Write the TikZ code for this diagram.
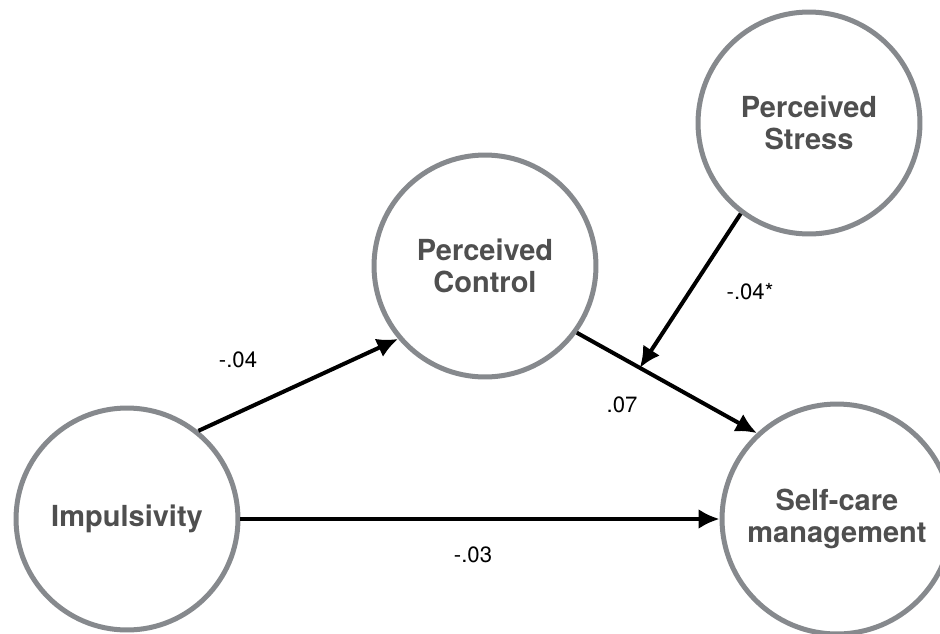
\documentclass[tikz,border=0pt]{standalone}
\usepackage{fontspec}
\setmainfont{TeX Gyre Heros}
\usetikzlibrary{arrows.meta}
\usetikzlibrary{positioning}

\definecolor{ringgray}{HTML}{86898D}
\definecolor{textgray}{HTML}{4F4F4F}

\tikzset{
  var/.style={circle, draw=ringgray, line width=0.1cm, fill=white,
    minimum size=4.44cm, align=center, text=textgray,
    font=\fontsize{16.5}{18.5}\selectfont\bfseries},
  path/.style={line width=0.08cm, -{Latex[length=0.42cm,width=0.4cm]}},
  coef/.style={font=\fontsize{12.6}{14}\selectfont}
}

\begin{document}
\begin{tikzpicture}[x=0.02cm,y=-0.02cm]
\useasboundingbox (0,0) rectangle (940,633);

\node [var] (imp) at (127,519) {Impulsivity};
\node [var] (ctrl) at (485,266) {Perceived\\Control};
\node [var] (stress) at (809,123) {Perceived\\Stress};
\node [var, minimum size=4.6cm] (self) at (837,519) {Self-care\\management};

\draw [path] (imp.51) -- (ctrl.220);
\draw [path] (ctrl.-36) -- coordinate[pos=.35] (mod) (self.133);
\draw [path] (stress.233) -- (mod);
\draw [path] (imp.east) -- (self.west);

\node [coef] (a) at (238,360) {-.04};
\node [coef] (b) at (622,405) {.07};
\node [coef] (c) at (750,292) {-.04*};
\node [coef] (d) at (473,555) {-.03};
\end{tikzpicture}
\end{document}
